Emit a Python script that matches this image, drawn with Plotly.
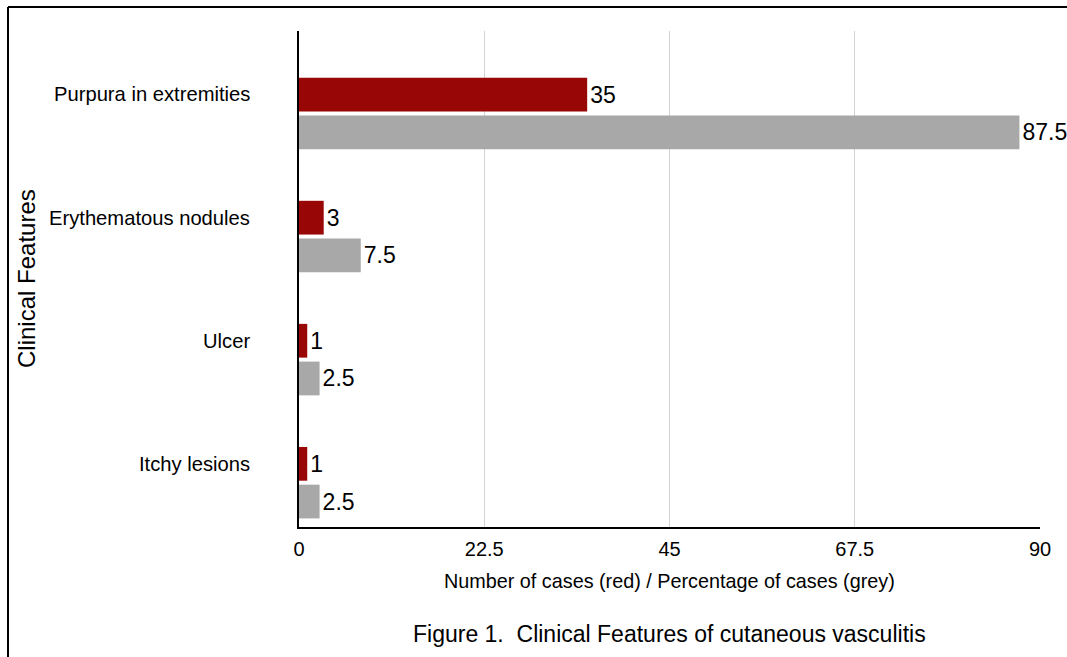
import plotly.graph_objects as go

categories = ["Purpura in extremities", "Erythematous nodules", "Ulcer", "Itchy lesions"]
cases = [35, 3, 1, 1]
percent = [87.5, 7.5, 2.5, 2.5]
x_ticks = [0, 22.5, 45, 67.5, 90]
x_tick_labels = ["0", "22.5", "45", "67.5", "90"]

FONT = "Liberation Sans, Arial, Helvetica, sans-serif"
W, H = 1067, 657
ML, MR, MT, MB = 299, 27, 31, 130
PW = W - ML - MR
PH = H - MT - MB

fig = go.Figure()
fig.add_trace(go.Bar(
    y=categories, x=cases, orientation="h", name="Number of cases",
    marker=dict(color="#990606", line=dict(width=0)),
    text=[str(v) for v in cases], textposition="outside", cliponaxis=False,
    constraintext="none", textfont=dict(size=23, color="#000000", family=FONT),
))
fig.add_trace(go.Bar(
    y=categories, x=percent, orientation="h", name="Percentage of cases",
    marker=dict(color="#a8a8a8", line=dict(width=0)),
    text=[str(v) for v in percent], textposition="outside", cliponaxis=False,
    constraintext="none", textfont=dict(size=23, color="#000000", family=FONT),
))

def px_x(p):
    return (p - ML) / PW

def px_y(p):
    return (MT + PH - p) / PH

annotations = []
for c in categories:
    annotations.append(dict(
        x=0, xref="paper", y=c, yref="y", xshift=-47, yshift=19,
        xanchor="right", yanchor="middle", showarrow=False,
        text=c, font=dict(size=20.2, color="#000000", family=FONT),
    ))
annotations.append(dict(
    x=px_x(26), xref="paper", y=px_y(279), yref="paper", textangle=-90,
    xanchor="center", yanchor="middle", showarrow=False,
    text="Clinical Features", font=dict(size=24, color="#000000", family=FONT),
))
annotations.append(dict(
    x=px_x(669), xref="paper", y=px_y(581), yref="paper",
    xanchor="center", yanchor="middle", showarrow=False,
    text="Number of cases (red) / Percentage of cases (grey)",
    font=dict(size=19.8, color="#000000", family=FONT),
))
annotations.append(dict(
    x=px_x(669), xref="paper", y=px_y(634), yref="paper",
    xanchor="center", yanchor="middle", showarrow=False,
    text="Figure 1.&nbsp;&nbsp;Clinical Features of cutaneous vasculitis",
    font=dict(size=23, color="#000000", family=FONT),
))

shapes = [
    dict(type="line", xref="paper", yref="paper",
         x0=px_x(8), x1=px_x(8), y0=px_y(H + 5), y1=px_y(7),
         line=dict(color="#000000", width=2)),
    dict(type="line", xref="paper", yref="paper",
         x0=px_x(8), x1=px_x(W + 5), y0=px_y(7), y1=px_y(7),
         line=dict(color="#000000", width=2)),
]

fig.update_layout(
    width=W, height=H,
    margin=dict(l=ML, r=MR, t=MT, b=MB, pad=0),
    paper_bgcolor="#ffffff", plot_bgcolor="#ffffff",
    barmode="group", bargap=0.387, bargroupgap=0.105,
    showlegend=False,
    font=dict(family=FONT, color="#000000"),
    annotations=annotations, shapes=shapes,
    xaxis=dict(
        range=[0, 90], tickvals=x_ticks, ticktext=x_tick_labels,
        showgrid=True, gridcolor="#d3d3d3", gridwidth=1,
        zeroline=False, showline=True, linecolor="#000000", linewidth=2,
        ticks="", ticklabelstandoff=3,
        tickfont=dict(size=20, color="#000000", family=FONT),
    ),
    yaxis=dict(
        categoryorder="array", categoryarray=categories,
        range=[3.36, -0.67], showticklabels=False, ticks="",
        showgrid=False, zeroline=False, showline=True,
        linecolor="#000000", linewidth=2,
    ),
)

fig.write_html("out.html")
